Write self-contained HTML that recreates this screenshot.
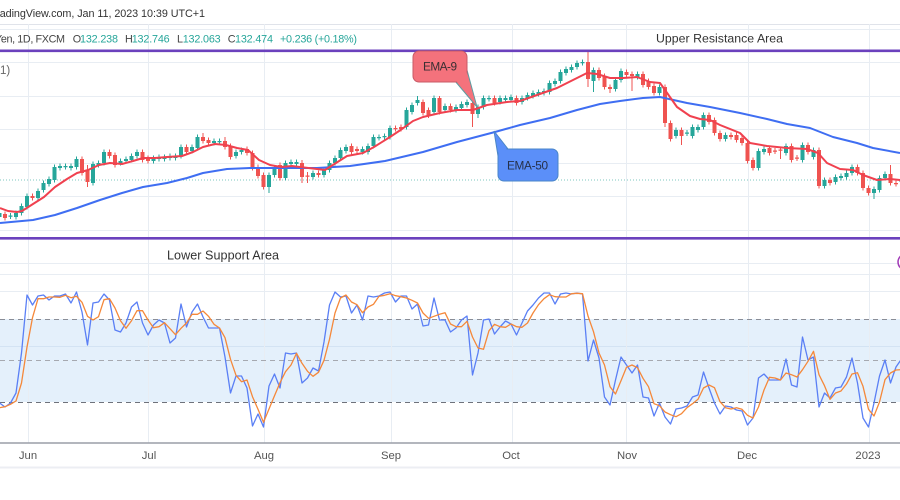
<!DOCTYPE html>
<html><head><meta charset="utf-8">
<style>
html,body{margin:0;padding:0;background:#fff;width:900px;height:500px;overflow:hidden}
svg{display:block}
text{font-family:"Liberation Sans",sans-serif}
</style></head>
<body>
<svg id="c" width="900" height="500" viewBox="0 0 900 500" xmlns="http://www.w3.org/2000/svg">
<rect width="900" height="500" fill="#fff"/>
<!-- stochastic band -->
<rect x="0" y="319" width="900" height="83" fill="#e4f0fb"/>
<!-- grid -->
<g stroke="#e8edf3" stroke-width="1" fill="none">
<line x1="0" y1="24.5" x2="900" y2="24.5" stroke="#e0e3ea"/>
<line x1="0" y1="29.5" x2="900" y2="29.5"/>
<line x1="0" y1="62.5" x2="900" y2="62.5"/>
<line x1="0" y1="96.5" x2="900" y2="96.5"/>
<line x1="0" y1="129.5" x2="900" y2="129.5"/>
<line x1="0" y1="163.5" x2="900" y2="163.5"/>
<line x1="0" y1="196.5" x2="900" y2="196.5"/>
<line x1="0" y1="230.5" x2="900" y2="230.5"/>
<line x1="0" y1="263.5" x2="900" y2="263.5"/>
<line x1="0" y1="274.5" x2="900" y2="274.5"/>
<line x1="0" y1="291.5" x2="900" y2="291.5"/>
<line x1="0" y1="346.5" x2="900" y2="346.5" stroke="#d3e3f3"/>
<line x1="28.5" y1="24" x2="28.5" y2="443"/>
<line x1="148.5" y1="24" x2="148.5" y2="443"/>
<line x1="264.5" y1="24" x2="264.5" y2="443"/>
<line x1="391.5" y1="24" x2="391.5" y2="443"/>
<line x1="512.5" y1="24" x2="512.5" y2="443"/>
<line x1="626.5" y1="24" x2="626.5" y2="443"/>
<line x1="748.5" y1="24" x2="748.5" y2="443"/>
<line x1="869.5" y1="24" x2="869.5" y2="443"/>
</g>
<!-- stoch levels -->
<line x1="0" y1="319.5" x2="900" y2="319.5" stroke="#8a8d96" stroke-width="1" stroke-dasharray="5,4"/>
<line x1="0" y1="360.5" x2="900" y2="360.5" stroke="#a6a9b0" stroke-width="1" stroke-dasharray="5,4"/>
<line x1="0" y1="402.5" x2="900" y2="402.5" stroke="#6f727b" stroke-width="1" stroke-dasharray="5,4"/>
<!-- price dotted line -->
<line x1="0" y1="180" x2="900" y2="180" stroke="#7cc7bf" stroke-width="1" stroke-dasharray="1,2"/>
<!-- candles -->
<path id="gw" stroke="#26a69a" stroke-width="1" fill="none"/>
<path id="rw" stroke="#ef5350" stroke-width="1" fill="none"/>
<path id="gb" fill="#26a69a"/>
<path id="rb" fill="#ef5350"/>
<!-- EMA 50 -->
<polyline fill="none" stroke="#3f6ef2" stroke-width="2" stroke-linejoin="round" points="0,223 33,220 55,215 77,208 100,200 122,193 143,187 167,183 187,178 203,173 227,169 250,168 283,168 317,168 350,166 385,161 423,152 457,142 495,132 520,125 550,118 577,110 600,104 620,101 643,98 660,97 687,103 710,107 740,113 767,119 787,124 810,128 833,137 857,143 873,148 900,153"/>
<!-- EMA 9 -->
<polyline fill="none" stroke="#f0414f" stroke-width="2" stroke-linejoin="round" points="0,208 8,211 17,212 22,211 33,204 44,197 55,187 67,179 77,173 88,170 99,165 110,163 122,164 133,161 143,158 155,158 167,157 182,156 193,152 203,147 215,144 226,145 237,148 248,150 259,160 270,165 281,167 292,166 300,167 317,169 325,170 336,163 347,156 363,153 374,147 390,137 402,129 413,121 423,117 440,113 457,110 473,110 487,105 507,102 520,101 537,95 557,88 573,80 587,73 597,74 610,78 623,78 637,77 650,82 660,83 665,90 677,107 690,116 700,119 710,120 720,125 740,133 750,143 767,146 787,148 807,149 818,153 827,163 840,169 853,170 863,175 877,180 890,179 900,180"/>
<!-- stochastic lines -->
<polyline id="kline" fill="none" stroke="#5a7ff5" stroke-width="1.3" stroke-linejoin="round"/>
<polyline id="dline" fill="none" stroke="#f5883a" stroke-width="1.3" stroke-linejoin="round"/>
<!-- purple lines -->
<line x1="0" y1="50.8" x2="900" y2="50.8" stroke="#6b41bd" stroke-width="2.6"/>
<line x1="0" y1="238.3" x2="900" y2="238.3" stroke="#6b41bd" stroke-width="2.6"/>
<!-- EMA-9 bubble -->
<polygon points="455,81 477,107 467,70" fill="#f4727c" stroke="#5d9da2" stroke-width="1"/>
<rect x="413" y="51" width="54" height="31" rx="6" fill="#f4727c" stroke="#c85a66" stroke-width="1"/>
<polygon points="456,80.5 476,105 466.5,72" fill="#f4727c"/>
<text x="423" y="70.5" font-size="11.8" fill="#3a2f33" textLength="34">EMA-9</text>
<!-- EMA-50 bubble -->
<polygon points="494,131 498,156 508,149" fill="#5b8ff9" stroke="#4a86c8" stroke-width="1"/>
<rect x="498" y="149" width="60" height="32" rx="6" fill="#5b8ff9" stroke="#4a86c8" stroke-width="1"/>
<polygon points="494.8,132.5 498.8,155 507,150" fill="#5b8ff9"/>
<text x="507" y="169.5" font-size="11.8" fill="#26304a" textLength="41">EMA-50</text>
<!-- header text -->
<text x="-10" y="16.8" font-size="10.8" fill="#333" textLength="215">TradingView.com, Jan 11, 2023 10:39 UTC+1</text>
<g font-size="10.8">
<text x="-5" y="42.5" fill="#444" textLength="70">Yen, 1D, FXCM</text>
<text x="72.7" y="42.5" fill="#444">O</text>
<text x="80" y="42.5" fill="#26a69a" textLength="38">132.238</text>
<text x="125" y="42.5" fill="#444">H</text>
<text x="131.7" y="42.5" fill="#26a69a" textLength="38">132.746</text>
<text x="177" y="42.5" fill="#444">L</text>
<text x="182.7" y="42.5" fill="#26a69a" textLength="38">132.063</text>
<text x="227.8" y="42.5" fill="#444">C</text>
<text x="235" y="42.5" fill="#26a69a" textLength="38">132.474</text>
<text x="280" y="42.5" fill="#26a69a" textLength="77">+0.236 (+0.18%)</text>
</g>
<text x="0" y="74" font-size="11.5" fill="#666">1)</text>
<text x="656" y="42.5" font-size="12.3" fill="#333" textLength="127">Upper Resistance Area</text>
<text x="167" y="259.5" font-size="12.6" fill="#333" textLength="112">Lower Support Area</text>
<!-- purple circle right edge -->
<circle cx="906" cy="262" r="8" fill="#fff" stroke="#a13ab7" stroke-width="1.5"/>
<!-- time axis -->
<line x1="0" y1="443" x2="900" y2="443" stroke="#9a9ea7" stroke-width="1.5"/>
<line x1="0" y1="467.5" x2="900" y2="467.5" stroke="#eceef3" stroke-width="2"/>
<g font-size="11.3" fill="#555" text-anchor="middle">
<text x="28" y="459">Jun</text>
<text x="149" y="459">Jul</text>
<text x="264" y="459">Aug</text>
<text x="391" y="459">Sep</text>
<text x="511" y="459">Oct</text>
<text x="627" y="459">Nov</text>
<text x="747" y="459">Dec</text>
<text x="868" y="459">2023</text>
</g>
</svg>
<script>
(function(){
var D=[[213,217,1],
[214,218,0],[215.5,216.5,1],[213,217,1],[206,213,1],[196,207,1],[196,198,0],[191,198,1],[183,190,1],[179,184,1],[167,180,1],
[166,168,1],[166,167,1],[166,168,1],[159,167,1],[159,173,0],[170,182,0,165,187],[164,183,1],[163,165,1],[152,163,1],[152,156,0],
[155,165,0],[161,163,1],[159,161,1],[156,160,1],[152,156,1],[152,160,0],[158,161,0],[158,161,1],[157,159,1],[157,159,1],
[156,158,1],[156,158,1],[147,156,1],[147,152,0],[147,151,1],[137,148,1],[137,141,0,133],[140,143,0],[141,143,1],[141,142,1],
[141,147,0,137],[146,157,0],[152,156,1],[150,152,1],[149,153,0],[153,168,0],[167,176,0],[175,187,0],[175,187,1,null,193],[168,175,1],
[165,178,0],[163,178,1],[162,164,1],[162,164,1],
[163,177,0,160,183],[175.5,176.5,0,172,183],[173,177,1],[173,175,0],[170,175,1],[163,170,1],
[158,163,1],[150,158,1],[147,151,1],[146,152,0],[149,151,0],[149,152,1],[146,152,1],[137,146,1],[137,138,1],[136,137,1],
[128,137,1],[128,129,0],[127,129,0],[110,127,1],[105,112,1],[100,103,1,96],[102,113,0],[110,115,0,null,118],[98,112,1],[98,112,0,96],
[106,110,1],[106,110,0],[107,110,1],[104,108,1],[102,105,1],[103,114,0,null,127],[107,114,1,null,118],[98,107,1],[98,99,1],[98,103,0],
[98,102,1],[98,100,1],[97,100,1],[98,103,0],[98,102,1],[95,98,1],[93,96,1],[92,94,1],[91,93,1],[83,92,1],
[81,84,1],[72,81,1],[69,73,1],[67,70,1],[63,67,1],[62,63,1],[62,79,0,50,87],[70,81,1,null,92],[70,78,0],[76,87,0],
[87,89,0,null,93],[80,89,1],[71,80,1],[72,75,0],[74,76,0,null,91],[74,77,1],[74,85,0],[81,87,0],[86,93,0],[87,93,1],
[87,123,0,null,127],[123,139,0],[130,136,1],[130,136,0,null,145],[132.5,133.5,1],[127,136,1],[127,130,1],[115,127,1],[115,122,0],[120,133,0],
[133,139,0],[135,139,1],[135,137,0],[135,140,0],[138,143,0],[143,161,0],[160,168,0],[151,168,1],[149,152,1],[148,153,0],
[150.5,151.5,0],[149.5,150.5,0,null,159],[146,153,1],[146,160,0],[157.5,158.5,0],[145,160,1],[145,152,0],[150,157,1],[150,186,0],[180,186,1],
[180,183,0],[177,182,1],[176,178,1],[173,177,1],[167,173,1],[167,173,0],[173,188,0],[188,193,0],[189,193,1,null,199],[178,190,1],
[174,178,1],[174,183,0,165],[183,184,0],[179,182,1]];
var K=[403,
407,403,393,353,295,305,296,295,300,296,
296,294,303,292,312,345,303,302,294,300,
330,332,323,307,302,323,335,325,320,323,
343,338,304,327,312,304,317,328,328,328,
357,393,376,376,388,426,414,427,386,374,
388,353,354,353,383,378,368,371,342,305,
292,297,296,313,305,320,296,297,296,293,
292,302,296,296,309,304,326,325,298,320,
320,332,328,320,316,375,353,320,319,334,
327,321,324,335,323,311,305,298,293,293,
304,294,293,294,293,294,361,340,358,397,
405,380,357,365,373,365,397,398,416,403,
417,424,409,408,406,397,395,372,388,403,
414,406,407,410,411,425,418,378,374,380,
380,380,359,385,387,337,360,357,407,393,
398,388,387,377,358,383,418,427,403,376,
360,383,367,359];
var gb='',rb='',gw='',rw='';
for(var k=0;k<D.length;k++){
 var i=k-1,x=5+5.5*i,d=D[k],t=d[0],b=d[1],up=d[2];
 var hi=(d[3]!=null)?d[3]:t-2.5, lo=(d[4]!=null)?d[4]:b+2.5;
 var bh=Math.max(b-t,1.2);
 var body='M'+(x-2).toFixed(2)+','+t+'h4v'+bh+'h-4z';
 var wick='M'+x.toFixed(2)+','+hi+'V'+lo;
 if(up){gb+=body;gw+=wick;}else{rb+=body;rw+=wick;}
}
document.getElementById('gb').setAttribute('d',gb);
document.getElementById('rb').setAttribute('d',rb);
document.getElementById('gw').setAttribute('d',gw);
document.getElementById('rw').setAttribute('d',rw);
var kp=[],dp=[],pad=[410,410].concat(K);
for(var j=0;j<K.length;j++){
 var xx=(5+5.5*(j-1)).toFixed(2);
 kp.push(xx+','+K[j]);
 var dv=(pad[j]+pad[j+1]+pad[j+2])/3;
 dp.push(xx+','+dv.toFixed(1));
}
document.getElementById('kline').setAttribute('points',kp.join(' '));
document.getElementById('dline').setAttribute('points',dp.join(' '));
})();
</script>
</body></html>
